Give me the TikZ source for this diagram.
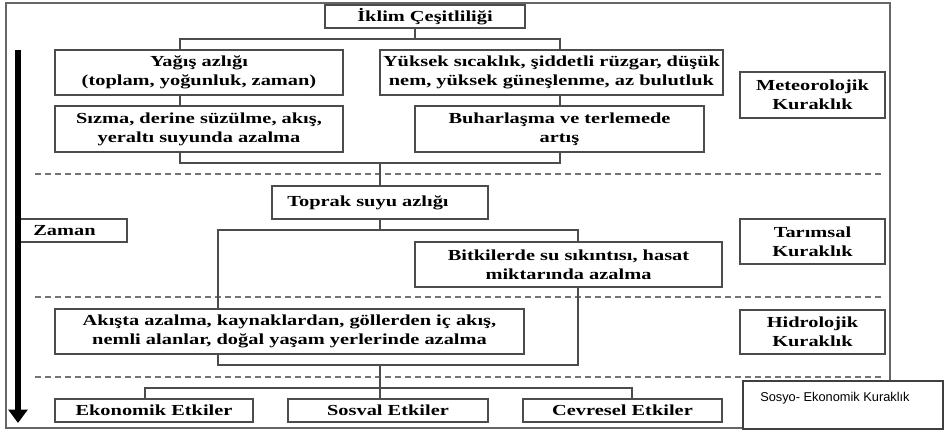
\documentclass[tikz,border=0pt]{standalone}
\usepackage{fontspec}
\setmainfont[FakeStretch=1.33]{Liberation Serif}
\newfontfamily\arialfont{Liberation Sans}
\usetikzlibrary{arrows.meta}
\tikzset{
  box/.style={draw=black!70, line width=1.1pt, fill=white, inner sep=0pt, align=center,
    font=\fontsize{11.5}{14}\selectfont\bfseries},
  conn/.style={draw=black!70, line width=1.1pt},
  sep/.style={draw=black!55, line width=0.9pt, dash pattern=on 4.5pt off 3pt},
}
\newcommand\mybox[6][]{\node[box, #1, minimum width={(#4-#2)*0.75pt}, minimum height={(#5-#3)*0.75pt}] (#2) at ({(#3+#5)/2},{(#4+#6)/2}) {};}
\newcommand\mkbox[7][]{\node[box, #1, minimum width={(#5-#3)*0.75pt}, minimum height={(#6-#4)*0.75pt}] (#2) at ({(#3+#5)/2},{(#4+#6)/2}) {#7};}
\begin{document}
\begin{tikzpicture}[x=0.75pt,y=-0.75pt]
\useasboundingbox (0,0) rectangle (944,433);
% outer frame
\draw[draw=black!60, line width=1.5pt] (6,3) rectangle (890,428);
% dashed separators
\draw[sep] (35,174) -- (885,174);
\draw[sep] (35,297) -- (885,297);
\draw[sep] (35,377) -- (885,377);
% boxes
\mkbox{title}{325}{5}{525}{28}{İklim Çeşitliliği}
\mkbox{yagis}{55}{50}{343}{95}{Yağış azlığı\\(toplam, yoğunluk, zaman)}
\mkbox{yuksek}{380}{50}{723}{95}{Yüksek  sıcaklık, şiddetli rüzgar, düşük\\nem, yüksek güneşlenme, az bulutluk}
\mkbox{meteo}{740}{72}{885}{118}{Meteorolojik\\Kuraklık}
\mkbox{sizma}{55}{106}{343}{152}{Sızma, derine süzülme, akış,\\yeraltı suyunda azalma}
\mkbox{buhar}{415}{106}{704}{152}{Buharlaşma ve terlemede\\artış}
\mkbox{toprak}{272}{186}{488}{219}{Toprak suyu azlığı\hspace{18pt}}
\mkbox{zaman}{20}{219}{127}{242}{}
\node[font=\fontsize{11.5}{14}\selectfont\bfseries, anchor=west, inner sep=0pt] (zamant) at (33,230.5) {Zaman};
\mkbox{bitki}{415}{242}{722}{287}{Bitkilerde su sıkıntısı, hasat\\miktarında azalma}
\mkbox{tarim}{740}{219}{885}{264}{Tarımsal\\Kuraklık}
\mkbox{akista}{55}{309}{524}{354}{Akışta azalma, kaynaklardan, göllerden iç akış,\\nemli alanlar, doğal yaşam yerlerinde azalma}
\mkbox{hidro}{740}{310}{885}{354}{Hidrolojik\\Kuraklık}
\mkbox{ekon}{55}{399}{253}{422}{Ekonomik Etkiler}
\mkbox{sosyal}{288}{399}{488}{422}{Sosval Etkiler}
\mkbox{cevre}{523}{399}{722}{422}{Cevresel Etkiler}
\mkbox[draw=black!75]{sosyo}{743}{381}{943}{429}{}
\node[font=\arialfont\fontsize{9.6}{11}\selectfont, anchor=west, inner sep=0pt] (sosyot) at (760,398) {Sosyo- Ekonomik Kuraklık};
% connector junctions
\coordinate (a0) at (415,39); \coordinate (a1) at (180,39); \coordinate (a2) at (560,39);
\coordinate (b0) at (380,163); \coordinate (b1) at (180,163); \coordinate (b2) at (560,163);
\coordinate (c0) at (380,230); \coordinate (c1) at (218,230); \coordinate (c2) at (578,230);
\coordinate (d0) at (380,365); \coordinate (d1) at (218,365); \coordinate (d2) at (578,365);
\coordinate (e1) at (145,388); \coordinate (e2) at (632,388); \coordinate (e0) at (380,388);
% connectors
\draw[conn] (title.south -| a0) -- (a0);
\draw[conn] (yagis.north -| a1) -- (a1) -- (a2) -- (yuksek.north -| a2);
\draw[conn] (yagis.south -| a1) -- (sizma.north -| a1);
\draw[conn] (yuksek.south -| a2) -- (buhar.north -| a2);
\draw[conn] (sizma.south -| b1) -- (b1) -- (b2) -- (buhar.south -| b2);
\draw[conn] (b0) -- (toprak.north -| b0);
\draw[conn] (toprak.south -| c0) -- (c0);
\draw[conn] (akista.north -| c1) -- (c1) -- (c2) -- (bitki.north -| c2);
\draw[conn] (akista.south -| d1) -- (d1) -- (d2) -- (bitki.south -| d2);
\draw[conn] (d0) -- (sosyal.north -| d0);
\draw[conn] (ekon.north -| e1) -- (e1) -- (e2) -- (cevre.north -| e2);
% time arrow
\coordinate (tt) at (18,50); \coordinate (tb) at (18,423);
\draw[line width=4.5pt, -{Triangle[width=14pt,length=10pt]}] (tt) -- (tb);
\end{tikzpicture}
\end{document}
